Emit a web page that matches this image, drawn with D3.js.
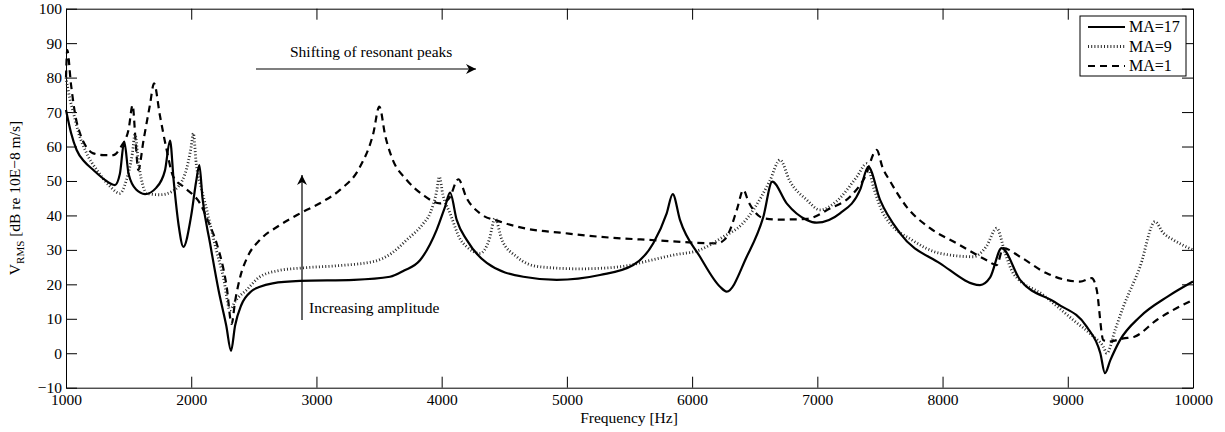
<!DOCTYPE html>
<html>
<head>
<meta charset="utf-8">
<script src="https://cdn.jsdelivr.net/npm/d3@7"></script>
<style>
 body{margin:0;background:#fff;}
 text{font-family:"Liberation Serif","Times New Roman",serif;fill:#000;}
</style>
</head>
<body>
<svg id="chart" width="1225" height="432"></svg>
<script>
// frequency [Hz], level [dB]
var ma17F=[1000,1040,1085,1150,1218,1300,1391,1430,1465,1500,1560,1631,1720,1790,1831,1860,1900,1937,2000,2040,2065,2090,2150,2220,2280,2318,2350,2400,2480,2549,2650,2869,3300,3587,3700,3827,3960,4027,4067,4120,4200,4360,4652,4919,5264,5530,5690,5797,5845,5903,6063,6223,6276,6436,6569,6640,6755,6915,6995,7181,7341,7407,7501,7661,7980,8299,8380,8472,8619,8912,9151,9260,9297,9340,9417,9577,9800,10000];
var ma17V=[70.6,64,59,55.5,53.2,50.6,48.8,52,61.4,52,47.5,46.2,48,53,61.7,50,37,30.9,40,50,54.6,45,32,18,8,0.7,8,14,18,19.3,20.3,21,21.3,22.2,24,27,35.8,42.5,46.6,38.7,32.9,26.2,22.2,21.3,22.7,25.6,31.9,40.6,46.2,38.7,28,19.3,17.9,28,39.6,49.8,43.5,38.7,37.9,40.6,47.4,54.1,44.5,34.8,26.1,19.8,22,30.5,21.3,14.5,7.7,0,-5.8,-2,3.8,10.6,16.5,20.8];

var ma9F=[1000,1030,1058,1100,1165,1250,1350,1431,1480,1530,1551,1580,1620,1644,1750,1850,1950,2000,2017,2040,2080,2124,2200,2256,2310,2350,2443,2549,2700,2869,3200,3454,3600,3721,3850,3907,3960,3981,4010,4067,4150,4200,4306,4380,4426,4480,4599,4780,5100,5424,5650,5850,6063,6249,6400,6489,6620,6702,6780,6915,7022,7150,7315,7394,7450,7520,7580,7750,7980,8246,8350,8432,8500,8565,8800,9044,9200,9284,9311,9380,9444,9577,9697,9760,9843,10000];
var ma9V=[80,74,70,64,58,53,48.5,46.4,50,58,63.5,55,48,46.4,46,47,52,60,63.8,55,48,41.6,30,22.2,12.5,15,18.4,22.2,24,24.7,25.5,26.6,29,32.9,37.5,40.6,47,51.2,46,40.6,33,30.9,29,33,39.2,33,28,25.1,24.5,25.1,26.8,28.5,30,33.8,37.5,41.6,50,56.1,50,44.5,41.6,44,51.2,55,48,41,37.7,33,29,28,31,36.3,29,23.2,17,9.65,5,1.9,0,7,13.5,25.1,38.2,35,32.9,30];

var ma1F=[1000,1010,1040,1080,1112,1160,1218,1300,1378,1440,1500,1532,1555,1577,1620,1670,1703,1750,1804,1857,1950,2070,2150,2203,2283,2323,2350,2390,2450,2549,2700,2869,3050,3188,3348,3454,3502,3550,3600,3721,3850,3987,4060,4133,4200,4306,4466,4700,4945,5264,5700,6196,6260,6303,6360,6409,6450,6489,6569,6700,6915,7100,7261,7381,7474,7520,7580,7713,7900,8113,8352,8432,8485,8619,8832,9098,9191,9231,9284,9324,9444,9532,9710,10000];
var ma1V=[80,88,78,68,63.8,60,58,57.5,57.5,60,65,72,62,53.2,62,72,78.3,69,59,51.2,48,43.5,37,31.9,19.3,8.5,15,22,28,32.9,37,40.6,44,47.4,54.1,63.8,71.6,63,57,50.3,46,43.5,45,50.5,45,40.6,38.2,36,35,33.8,32.8,31.9,33,35.8,42,47.4,44,41.6,39.2,38.8,39,42,45.4,51.2,59,54,50,42.5,36.3,31.9,27,25.6,30.5,28,23.2,20.8,21.8,18.4,3.8,3.4,4.3,4.8,9.65,15.5];

var seriesNames=["MA=17","MA=9","MA=1"];
var xTicks=[1000,2000,3000,4000,5000,6000,7000,8000,9000,10000];
var yTicks=[-10,0,10,20,30,40,50,60,70,80,90,100];

var svg=d3.select("#chart");
var L=66,R=1193,T=8.7,B=387.7;
var FS="15.5px";
var x=d3.scaleLinear().domain([1000,10000]).range([L,R]);
var y=d3.scaleLinear().domain([-10,100]).range([B,T]);

function styleAxis(g){
 g.attr("font-family","Liberation Serif").attr("font-size",FS);
 g.select(".domain").attr("stroke","#000").attr("stroke-width",1);
 g.selectAll(".tick line").attr("stroke","#000").attr("stroke-width",1);
 g.selectAll(".tick text").attr("font-size",FS);
}

svg.append("g").attr("transform","translate(0,"+B+")")
 .call(d3.axisBottom(x).tickValues(xTicks).tickSizeInner(-11).tickSizeOuter(0).tickPadding(6.5).tickFormat(d3.format("d")))
 .call(styleAxis);
svg.append("g").attr("transform","translate(0,"+T+")")
 .call(d3.axisTop(x).tickValues(xTicks).tickSizeInner(-11).tickSizeOuter(0).tickFormat(""))
 .call(styleAxis);
svg.append("g").attr("transform","translate("+L+",0)")
 .call(d3.axisLeft(y).tickValues(yTicks).tickSizeInner(-11).tickSizeOuter(0).tickPadding(4))
 .call(styleAxis);
svg.append("g").attr("transform","translate("+R+",0)")
 .call(d3.axisRight(y).tickValues(yTicks).tickSizeInner(-11).tickSizeOuter(0).tickFormat(""))
 .call(styleAxis);

var line=d3.line().x(function(d){return x(d[0]);}).y(function(d){return y(d[1]);}).curve(d3.curveMonotoneX);
var styles=[
 {stroke:"#000",width:2.2,dash:null},
 {stroke:"#2a2a2a",width:2.8,dash:"1,2.2"},
 {stroke:"#000",width:2.2,dash:"7,5"}
];
var data=[d3.zip(ma17F,ma17V),d3.zip(ma9F,ma9V),d3.zip(ma1F,ma1V)];
var plot=svg.append("g");
[2,1,0].forEach(function(i){
 plot.append("path").datum(data[i]).attr("d",line).attr("fill","none")
  .attr("stroke",styles[i].stroke).attr("stroke-width",styles[i].width)
  .attr("stroke-dasharray",styles[i].dash);
});

// annotations
var defs=svg.append("defs");
defs.append("marker").attr("id","ah").attr("viewBox","0 0 10 10").attr("refX",10).attr("refY",5)
 .attr("markerWidth",15).attr("markerHeight",10).attr("markerUnits","userSpaceOnUse").attr("orient","auto")
 .append("path").attr("d","M0,0 L10,5 L0,10 L3,5 Z").attr("fill","#000");
svg.append("line").attr("x1",256).attr("y1",69).attr("x2",476).attr("y2",69)
 .attr("stroke","#000").attr("stroke-width",1.2).attr("marker-end","url(#ah)");
svg.append("text").attr("x",290).attr("y",57).attr("font-size",FS).text("Shifting of resonant peaks");
svg.append("line").attr("x1",302).attr("y1",320).attr("x2",302).attr("y2",175)
 .attr("stroke","#000").attr("stroke-width",1.2).attr("marker-end","url(#ah)");
svg.append("text").attr("x",309).attr("y",313).attr("font-size",FS).text("Increasing amplitude");

// legend
var lg=svg.append("g");
lg.append("rect").attr("x",1080).attr("y",16).attr("width",106).attr("height",60)
 .attr("fill","#fff").attr("stroke","#000").attr("stroke-width",1);
seriesNames.forEach(function(n,i){
 var yy=27+i*19.5;
 lg.append("line").attr("x1",1088).attr("x2",1125).attr("y1",yy).attr("y2",yy)
  .attr("stroke",styles[i].stroke).attr("stroke-width",styles[i].width).attr("stroke-dasharray",styles[i].dash);
 lg.append("text").attr("x",1129).attr("y",yy+5).attr("font-size","16px").text(n);
});

// axis labels
svg.append("text").attr("x",629).attr("y",423).attr("text-anchor","middle").attr("font-size",FS).text("Frequency [Hz]");
var yl=svg.append("text").attr("transform","translate(20,198) rotate(-90)").attr("text-anchor","middle").attr("font-size",FS);
yl.append("tspan").text("V");
yl.append("tspan").attr("font-size","11px").attr("dy",4).text("RMS");
yl.append("tspan").attr("dy",-4).text(" [dB re 10E\u22128 m/s]");
</script>
</body>
</html>
